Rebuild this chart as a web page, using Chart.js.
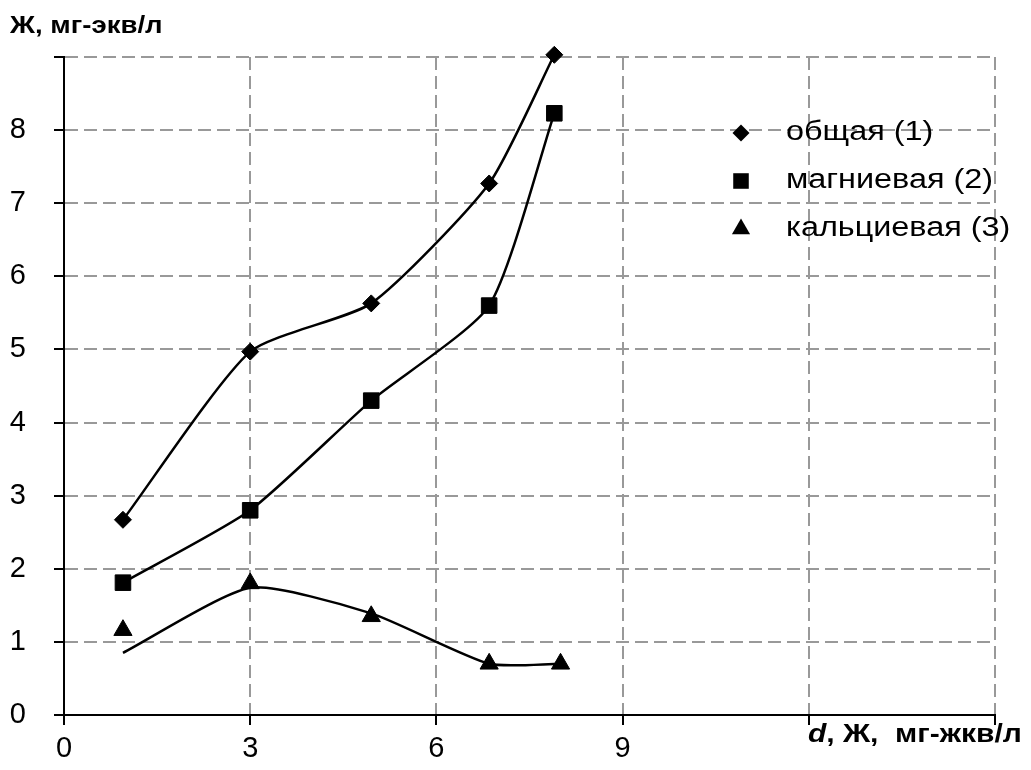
<!DOCTYPE html>
<html lang="ru">
<head>
<meta charset="utf-8">
<title>Жесткость воды</title>
<script src="https://cdn.jsdelivr.net/npm/chart.js@4.4.1/dist/chart.umd.min.js"></script>
<style>
  html, body { margin: 0; padding: 0; background: #fff; }
  #wrap { position: relative; width: 1031px; height: 770px; }
</style>
</head>
<body>
<div id="wrap"><canvas id="chart" width="1031" height="770"></canvas></div>
<script>
// Data
const seriesNames = ['общая (1)', 'магниевая (2)', 'кальциевая (3)'];
const xTotal = [0.95, 3, 4.95, 6.85, 7.9];
const total = [2.67, 4.97, 5.63, 7.27, 9.03];
const magnesium = [1.81, 2.8, 4.3, 5.6, 8.23];
const xCalcium = [0.95, 3, 4.95, 6.85, 8.0];
const calcium = [1.16, 1.8, 1.35, 0.7, 0.7];
// the calcium curve does not pass through every marker
const calciumLine = [0.85, 1.74, 1.39, 0.7, 0.7];
const xTicks = [0, 3, 6, 9];
const yTicks = [0, 1, 2, 3, 4, 5, 6, 7, 8];
const yTitle = 'Ж, мг-экв/л';
const xTitle = ', Ж,  мг-жкв/л';

const FONT = '"Liberation Sans", Arial, sans-serif';
const STRETCH = 1.2;

function toPoints(xs, ys) {
    return xs.map((x, i) => ({ x: x, y: ys[i] }));
}

// Draw a marker shape (used by the legend)
function marker(ctx, style, x, y, r) {
    ctx.beginPath();
    if (style === 'rectRot') {
        ctx.moveTo(x, y - r);
        ctx.lineTo(x + r, y);
        ctx.lineTo(x, y + r);
        ctx.lineTo(x - r, y);
    } else if (style === 'rect') {
        const s = Math.SQRT1_2 * r;
        ctx.rect(x - s, y - s, 2 * s, 2 * s);
    } else {
        const h = r * Math.sqrt(3) / 2;
        ctx.moveTo(x, y - r);
        ctx.lineTo(x + h, y + r / 2);
        ctx.lineTo(x - h, y + r / 2);
    }
    ctx.closePath();
    ctx.fill();
}

function wideText(ctx, text, x, y) {
    ctx.save();
    ctx.translate(x, y);
    ctx.scale(STRETCH, 1);
    ctx.fillText(text, 0, 0);
    ctx.restore();
    return ctx.measureText(text).width * STRETCH;
}

const markerStyles = ['rectRot', 'rect', 'triangle'];
const markerSizes = [8.5, 11, 10.5];

// Axis titles and legend drawn inside the plot
const overlay = {
    id: 'overlay',
    afterDraw(chart) {
        const ctx = chart.ctx;
        ctx.save();
        ctx.fillStyle = '#000';
        ctx.textBaseline = 'alphabetic';
        ctx.textAlign = 'left';

        ctx.font = 'bold 23px ' + FONT;
        wideText(ctx, yTitle, 10, 33);

        ctx.font = 'italic bold 25px ' + FONT;
        let w = wideText(ctx, 'd', 808, 742);
        ctx.font = 'bold 25px ' + FONT;
        wideText(ctx, xTitle, 808 + w, 742);

        ctx.font = '27px ' + FONT;
        ctx.textBaseline = 'middle';
        const rows = [133, 181, 229];
        seriesNames.forEach((name, i) => {
            marker(ctx, markerStyles[i], 741, rows[i], markerSizes[i]);
            wideText(ctx, name, 786, rows[i]);
        });
        ctx.restore();
    }
};

const lineStyle = {
    showLine: true,
    borderColor: '#000',
    borderWidth: 2.5,
    tension: 0.2,
    backgroundColor: '#000',
    pointBorderColor: '#000',
    pointBorderWidth: 1,
    clip: false
};

const chart = new Chart(document.getElementById('chart'), {
    type: 'scatter',
    data: {
        datasets: [
            Object.assign({}, lineStyle, {
                label: seriesNames[0],
                data: toPoints(xTotal, total),
                pointStyle: 'rectRot',
                pointRadius: markerSizes[0]
            }),
            Object.assign({}, lineStyle, {
                label: seriesNames[1],
                data: toPoints(xTotal, magnesium),
                pointStyle: 'rect',
                pointRadius: markerSizes[1]
            }),
            Object.assign({}, lineStyle, {
                label: seriesNames[2] + ' линия',
                data: toPoints(xCalcium, calciumLine),
                pointRadius: 0
            }),
            Object.assign({}, lineStyle, {
                label: seriesNames[2],
                data: toPoints(xCalcium, calcium),
                showLine: false,
                pointStyle: 'triangle',
                pointRadius: markerSizes[2]
            })
        ]
    },
    options: {
        responsive: false,
        animation: false,
        layout: { padding: { top: 57, right: 36, bottom: 0, left: 0 } },
        plugins: {
            legend: { display: false },
            tooltip: { enabled: false }
        },
        scales: {
            x: {
                type: 'linear',
                min: 0,
                max: 15,
                afterBuildTicks: s => { s.ticks = [0, 3, 6, 9, 12, 15].map(v => ({ value: v })); },
                afterFit: s => { s.height = 55; },
                ticks: {
                    callback: v => xTicks.includes(v) ? String(v) : '',
                    color: '#000',
                    font: { family: FONT, size: 29 },
                    padding: 7,
                    maxRotation: 0,
                    autoSkip: false
                },
                grid: {
                    color: '#999',
                    lineWidth: 2,
                    tickLength: 10,
                    tickColor: '#000',
                    tickWidth: 2,
                    tickBorderDash: []
                },
                border: { color: '#000', width: 2, dash: [13, 6] }
            },
            y: {
                type: 'linear',
                min: 0,
                max: 9,
                afterBuildTicks: s => { s.ticks = [0, 1, 2, 3, 4, 5, 6, 7, 8, 9].map(v => ({ value: v })); },
                afterFit: s => { s.width = 64; },
                ticks: {
                    callback: v => yTicks.includes(v) ? String(v) : '',
                    color: '#000',
                    font: { family: FONT, size: 29 },
                    padding: 28,
                    autoSkip: false
                },
                grid: {
                    color: '#999',
                    lineWidth: 2,
                    tickLength: 10,
                    tickColor: '#000',
                    tickWidth: 2,
                    tickBorderDash: []
                },
                border: { color: '#000', width: 2, dash: [13, 6] }
            }
        }
    },
    plugins: [overlay]
});
</script>
</body>
</html>
